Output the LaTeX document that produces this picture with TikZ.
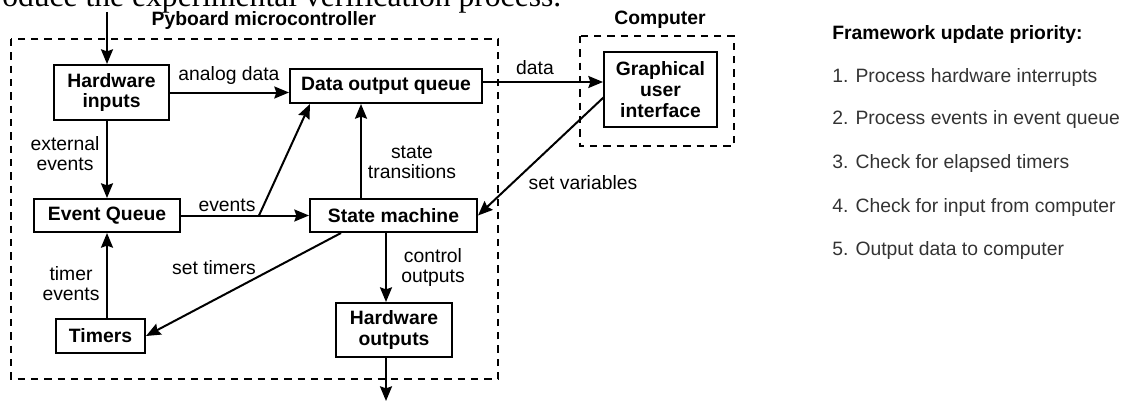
\documentclass[tikz,border=0pt]{standalone}
\usepackage{fontspec}
\setmainfont{Liberation Sans}
\newfontfamily\capfont{Liberation Serif}
\usetikzlibrary{arrows.meta}

\begin{document}
\begin{tikzpicture}[x=0.75pt,y=0.75pt,yscale=-1,xscale=1,
  blk/.style={draw, line width=1.5pt, inner sep=0pt, align=center, font=\bfseries\fontsize{14.5}{15.5}\selectfont},
  lbl/.style={inner sep=0pt, align=center, font=\fontsize{14.5}{15}\selectfont},
  ttl/.style={inner sep=0pt, font=\bfseries\fontsize{14.5}{17}\selectfont},
  itm/.style={anchor=west, inner sep=0pt, text=black!80, font=\fontsize{14.5}{17}\selectfont},
  con/.style={line width=1.5pt},
  arr/.style={con, -{Stealth[length=11pt,width=9pt,inset=1.5pt]}},
  frame/.style={line width=1.5pt, dash pattern=on 5.5pt off 4.5pt}]
\useasboundingbox (0,0) rectangle (1126,403);
\clip (0,0) rectangle (1126,403);

% Text Node
\node (caption) [anchor=base west, inner sep=0pt, font=\capfont\fontsize{23.7}{28}\selectfont] at (2,7) {oduce the experimental verification process.};

%Dashed frames
\draw [frame] (11,39) rectangle (498,379);
\draw [frame] (580,36) rectangle (734,146);
\node (pyb) [ttl] at (264,21) {Pyboard microcontroller};
\node (comp) [ttl] at (660,20) {Computer};

% Blocks
\node (hwin) [blk, minimum width=86.25pt, minimum height=41.25pt] at (111.5,92.5) {Hardware\\inputs};
\node (dataq) [blk, minimum width=144pt, minimum height=25.5pt] at (386,86) {Data output queue};
\node (gui) [blk, minimum width=84.75pt, minimum height=56.25pt] at (660.5,89.5) {Graphical\\user\\interface};
\node (evq) [blk, minimum width=109.5pt, minimum height=24.75pt] at (107,215.5) {Event Queue};
\node (sm) [blk, minimum width=125.25pt, minimum height=24.75pt] at (393.5,215.5) {State machine};
\node (timers) [blk, minimum width=66.75pt, minimum height=25.5pt] at (100.5,336) {Timers};
\node (hwout) [blk, minimum width=87pt, minimum height=40.5pt] at (394,330) {Hardware\\outputs};

% Helper coordinates
\coordinate (inbeg) at (107,12);
\coordinate (datay) at (0,82);
\coordinate (fork) at (259,215.5);
\coordinate (evup) at (310,0);
\coordinate (stx) at (361,0);
\coordinate (guiout) at (604,97);
\coordinate (stm) at (341,0);
\coordinate (ctl) at (386,0);
\coordinate (outend) at (386,401);

%Straight Lines
\draw [arr] (inbeg) -- (inbeg |- hwin.north);
\draw [arr] (inbeg |- hwin.south) -- (inbeg |- evq.north);
\draw [arr] (inbeg |- timers.north) -- (inbeg |- evq.south);
\draw [arr] (hwin.east) -- (hwin.east -| dataq.west);
\draw [arr] (dataq.east |- datay) -- (gui.west |- datay);
\draw [arr] (evq.east) -- (sm.west);
\draw [arr] (fork) -- (evup |- dataq.south);
\draw [arr] (stx |- sm.north) -- (stx |- dataq.south);
\draw [arr] (guiout) -- (sm.east);
\draw [arr] (stm |- sm.south) -- (timers.east);
\draw [arr] (ctl |- sm.south) -- (ctl |- hwout.north);
\draw [arr] (ctl |- hwout.south) -- (outend);

% Text Node
\node (lanalog) [lbl] at (229,76) {analog data};
\node (ldata) [lbl] at (535,68) {data};
\node (lext) [lbl] at (65,154) {external\\events};
\node (levents) [lbl] at (227,205) {events};
\node (lstate) [lbl] at (412,162) {state\\transitions};
\node (lsetvar) [lbl] at (583,183) {set variables};
\node (lsettim) [lbl] at (214,268) {set timers};
\node (ltimev) [lbl] at (71,284) {timer\\events};
\node (lctrl) [lbl] at (433,267) {control\\outputs};

% Priority list
\node (prio) [ttl, anchor=west] at (832,35) {Framework update priority:};
\node (p1) [itm] at (832,78) {1. Process hardware interrupts};
\node (p2) [itm] at (832,120) {2. Process events in event queue};
\node (p3) [itm] at (832,163) {3. Check for elapsed timers};
\node (p4) [itm] at (832,207) {4. Check for input from computer};
\node (p5) [itm] at (832,250) {5. Output data to computer};

\end{tikzpicture}
\end{document}
